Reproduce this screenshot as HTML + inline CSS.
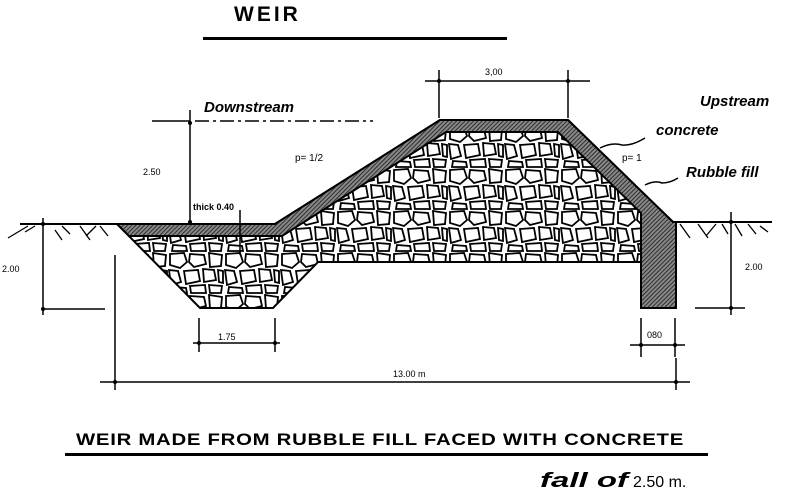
<!DOCTYPE html>
<html><head><meta charset="utf-8"><style>
html,body{margin:0;padding:0;background:#fff;width:800px;height:498px;overflow:hidden}
svg{display:block}
text{font-family:"Liberation Sans",sans-serif;fill:#000}
.h{font-family:"Liberation Sans",sans-serif;font-weight:bold;font-style:italic}
.c{font-family:"Liberation Sans",sans-serif;font-weight:bold}
</style></head><body>
<svg width="800" height="498" viewBox="0 0 800 498" xmlns="http://www.w3.org/2000/svg">
<defs>
<pattern id="rub" width="56" height="42" patternUnits="userSpaceOnUse">
<rect width="56" height="42" fill="#fff"/>
<g fill="#fff" stroke="#000" stroke-width="1.8">
<path d="M2,2 L16,1 L19,10 L12,16 L2,13 Z"/>
<path d="M22,2 L36,3 L38,12 L26,15 L21,10 Z"/>
<path d="M41,1 L54,3 L53,14 L42,15 Z"/>
<path d="M1,18 L10,19 L13,30 L3,33 Z"/>
<path d="M16,19 L30,18 L32,29 L18,32 Z"/>
<path d="M35,17 L46,18 L48,28 L36,30 Z"/>
<path d="M50,18 L55,19 L55,31 L51,30 Z"/>
<path d="M5,35 L18,36 L19,41 L4,41 Z"/>
<path d="M22,34 L37,33 L38,41 L23,41 Z"/>
<path d="M41,33 L54,34 L53,41 L42,41 Z"/>
</g>
</pattern>
<pattern id="con" width="3" height="3" patternUnits="userSpaceOnUse" patternTransform="rotate(45)">
<rect width="3" height="3" fill="#888"/>
<line x1="0" y1="0" x2="0" y2="3" stroke="#111" stroke-width="1.5"/>
</pattern>
</defs>

<text x="234" y="21" class="c" font-size="21" letter-spacing="3">WEIR</text>
<rect x="203" y="37" width="304" height="3" fill="#000"/>

<polygon points="117,224 275,224 440,120 568,120 673,222 676,222 676,308 641,308 641,262 318,262 273,308 200,308" fill="url(#rub)" stroke="#000" stroke-width="2"/>
<polygon points="117,224 275,224 440,120 568,120 673,222 676,222 676,308 641,308 641,213 558,132 446,132 282,236 129,236" fill="url(#con)" stroke="#000" stroke-width="2"/>

<g stroke="#000" stroke-width="2" fill="none">
<line x1="20" y1="224" x2="117" y2="224"/>
<line x1="676" y1="222" x2="772" y2="222"/>
</g>
<g stroke="#000" stroke-width="1.3" fill="none">
<path d="M8,238 L28,226 M25,232 L35,226 M55,230 L62,240 M62,226 L70,234 M80,226 L90,240 M86,236 L96,226 M100,226 L108,236"/>
<path d="M680,224 L690,238 M698,224 L708,238 M706,236 L716,224 M722,224 L728,234 M735,224 L742,236 M748,224 L756,234 M760,226 L768,232"/>
</g>

<g stroke="#000" stroke-width="1.5" fill="none">
<line x1="152" y1="121" x2="190" y2="121"/>
<line x1="195" y1="121" x2="373" y2="121" stroke-dasharray="14,4,3,4"/>
<line x1="190" y1="110" x2="190" y2="224"/>
<line x1="240" y1="210" x2="240" y2="255"/>
<line x1="43" y1="218" x2="43" y2="315"/>
<line x1="43" y1="309" x2="105" y2="309"/>
<line x1="115" y1="255" x2="115" y2="390"/>
<line x1="199" y1="318" x2="199" y2="352"/>
<line x1="275" y1="318" x2="275" y2="352"/>
<line x1="193" y1="343" x2="280" y2="343"/>
<line x1="439" y1="70" x2="439" y2="118"/>
<line x1="568" y1="70" x2="568" y2="118"/>
<line x1="425" y1="81" x2="590" y2="81"/>
<line x1="731" y1="212" x2="731" y2="315"/>
<line x1="695" y1="308" x2="745" y2="308"/>
<line x1="641" y1="318" x2="641" y2="357"/>
<line x1="675" y1="318" x2="675" y2="357"/>
<line x1="630" y1="345" x2="685" y2="345"/>
<line x1="100" y1="382" x2="690" y2="382"/>
<line x1="676" y1="358" x2="676" y2="390"/>
<path d="M600,148 Q612,142 622,145 Q632,146 645,138"/>
<path d="M645,185 Q655,180 662,183 Q670,183 678,178"/>
</g>
<g fill="#000">
<circle cx="190" cy="123" r="2"/><circle cx="190" cy="222" r="2"/>
<circle cx="43" cy="224" r="2"/><circle cx="43" cy="309" r="2"/>
<circle cx="199" cy="343" r="2"/><circle cx="275" cy="343" r="2"/>
<circle cx="439" cy="81" r="2"/><circle cx="568" cy="81" r="2"/>
<circle cx="731" cy="222" r="2"/><circle cx="731" cy="308" r="2"/>
<circle cx="641" cy="345" r="2"/><circle cx="675" cy="345" r="2"/>
<circle cx="115" cy="382" r="2"/><circle cx="676" cy="382" r="2"/>
</g>

<g font-size="9">
<text x="143" y="175">2.50</text>
<text x="2" y="272">2.00</text>
<text x="218" y="340">1.75</text>
<text x="485" y="75">3,00</text>
<text x="745" y="270">2.00</text>
<text x="647" y="338">080</text>
<text x="393" y="377">13.00 m</text>
<text x="295" y="161" font-size="10">p= 1/2</text>
<text x="622" y="161" font-size="10">p= 1</text>
<text x="193" y="210" font-size="9" font-weight="bold">thick 0.40</text>
</g>
<text x="204" y="112" class="h" font-size="15">Downstream</text>
<text x="700" y="106" class="h" font-size="15">Upstream</text>
<text x="656" y="135" class="h" font-size="15">concrete</text>
<text x="686" y="177" class="h" font-size="15">Rubble fill</text>

<text x="76" y="445" class="c" font-size="17" letter-spacing="0.6" textLength="608" lengthAdjust="spacingAndGlyphs">WEIR MADE FROM RUBBLE FILL FACED WITH CONCRETE</text>
<rect x="65" y="453" width="643" height="3" fill="#000"/>
<text x="540" y="487" class="h" font-size="20" textLength="88" lengthAdjust="spacingAndGlyphs">fall of</text>
<text x="633" y="487" font-size="16">2.50 m.</text>
</svg>
</body></html>
